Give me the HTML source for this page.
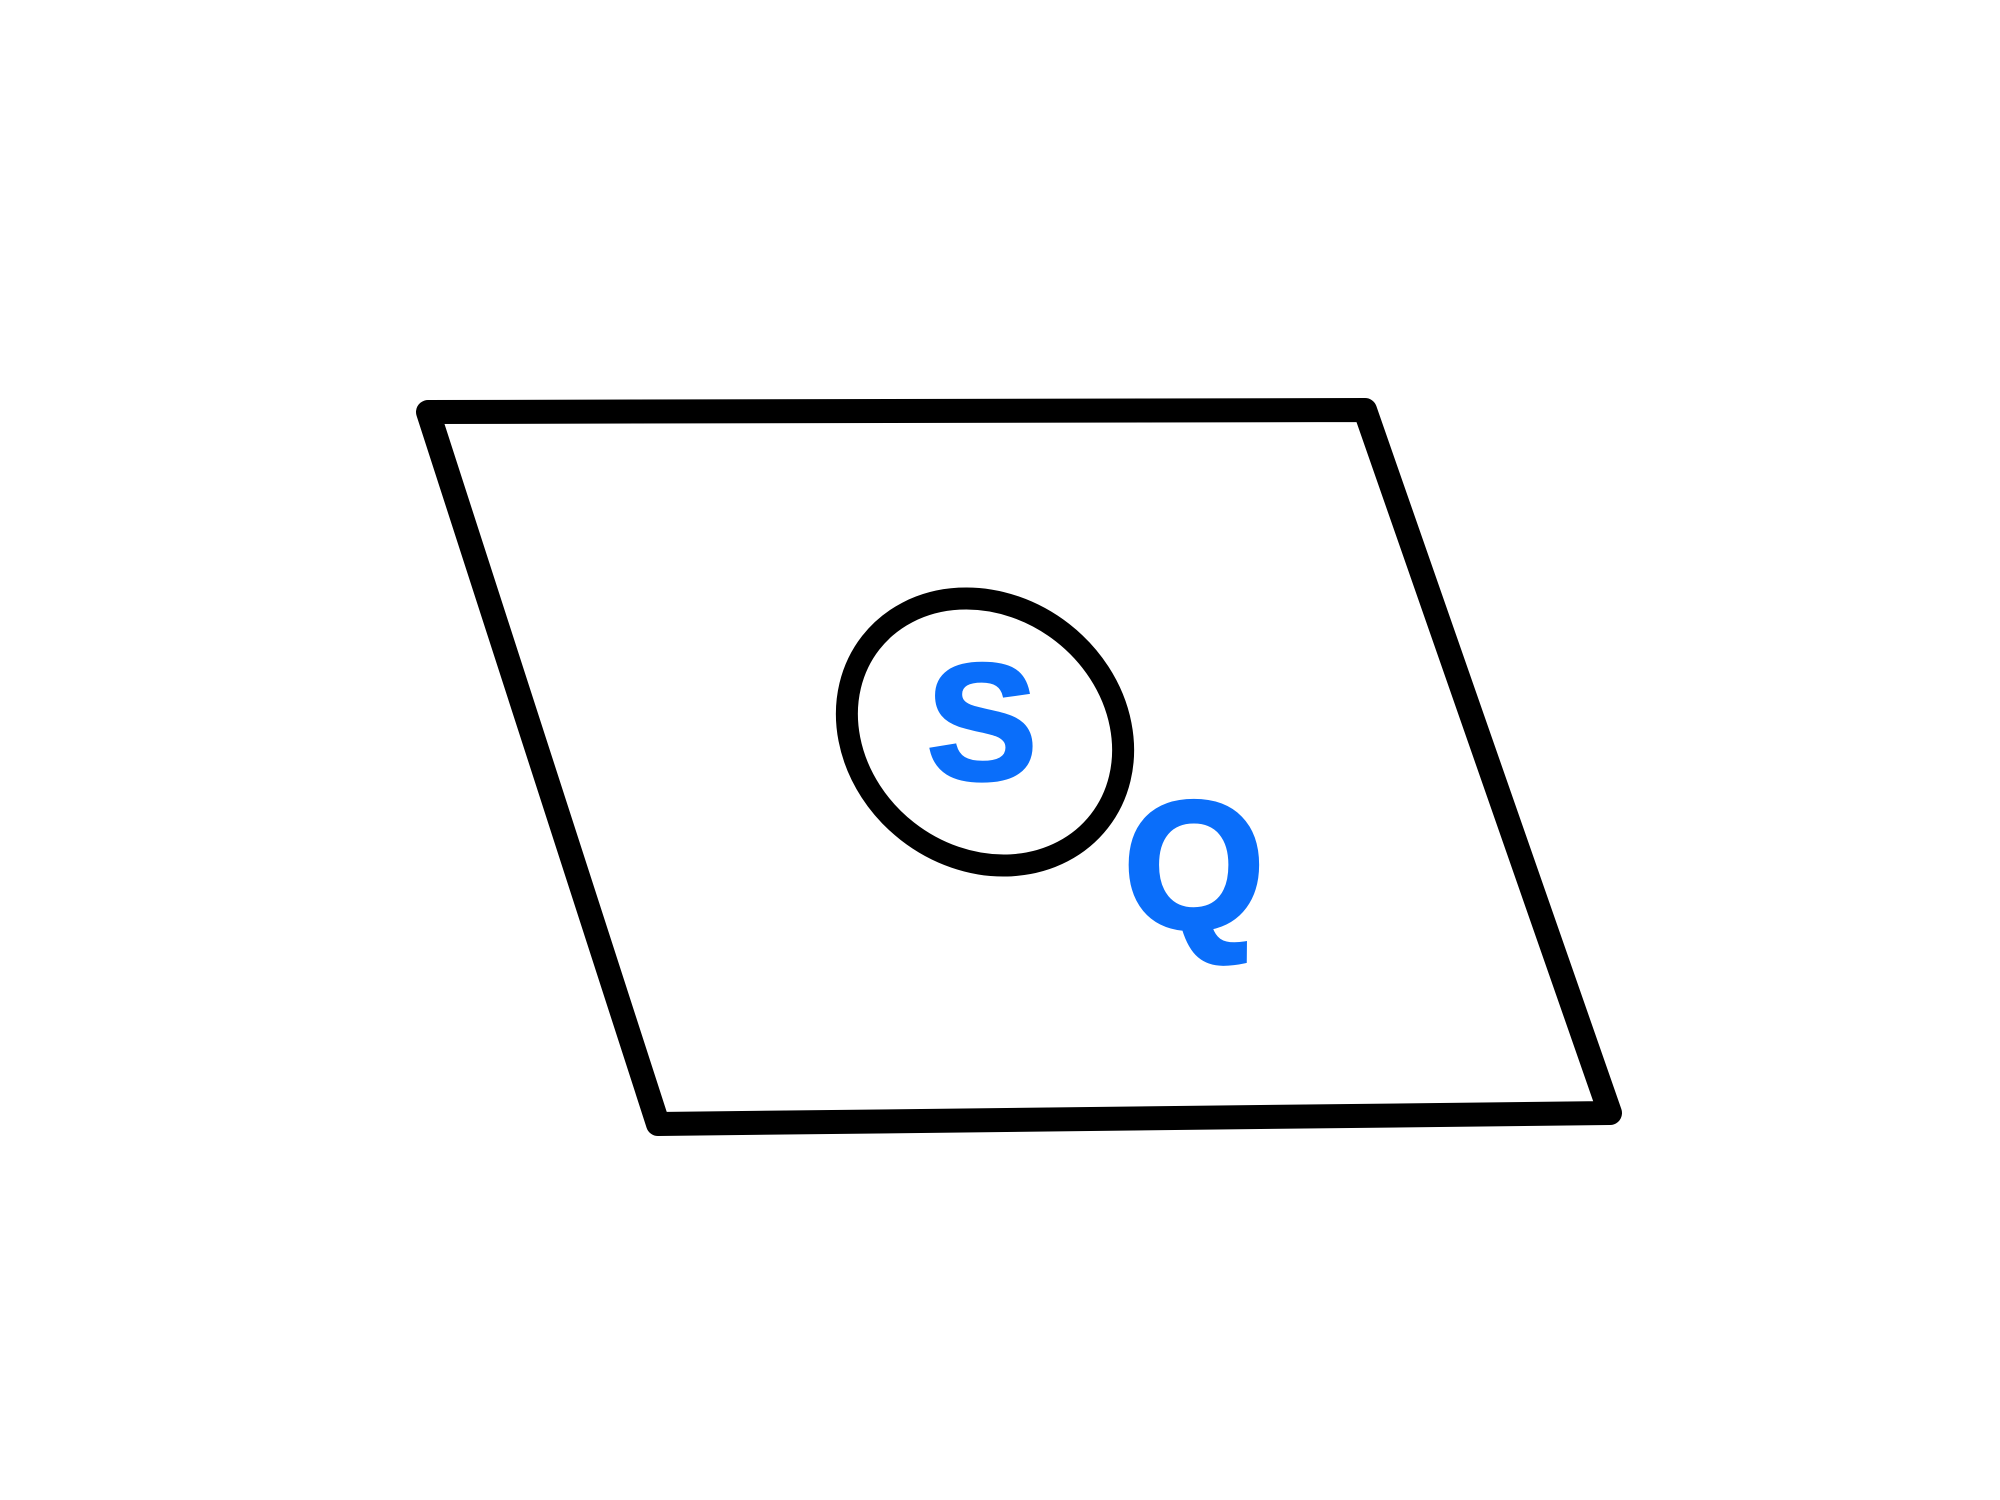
<!DOCTYPE html>
<html><head><meta charset="utf-8"><style>
html,body{margin:0;padding:0;background:#fff;width:2000px;height:1500px;overflow:hidden}
</style></head><body>
<svg width="2000" height="1500" viewBox="0 0 2000 1500">
<polygon points="428,412 1365,410 1610,1113 658,1124" fill="none" stroke="#000" stroke-width="24" stroke-linejoin="round"/>
<ellipse cx="985" cy="732" rx="145" ry="126" transform="rotate(38 985 732)" fill="none" stroke="#000" stroke-width="22"/>
<text x="982" y="779" text-anchor="middle" font-family="Liberation Sans, sans-serif" font-weight="bold" font-size="165" fill="#0a6efa" stroke="#0a6efa" stroke-width="4">S</text>
<text x="1194" y="928" text-anchor="middle" font-family="Liberation Sans, sans-serif" font-weight="bold" font-size="182" fill="#0a6efa" stroke="#0a6efa" stroke-width="4">Q</text>
</svg>
</body></html>
